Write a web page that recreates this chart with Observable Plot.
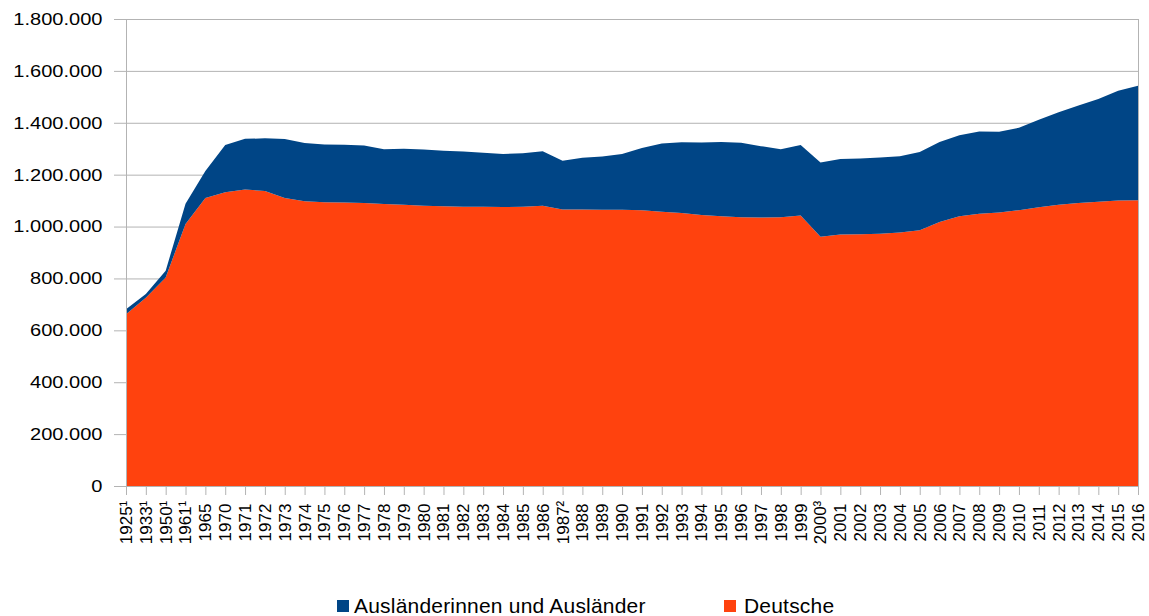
<!DOCTYPE html>
<html><head><meta charset="utf-8">
<script src="https://cdn.jsdelivr.net/npm/d3@7"></script>
<script src="https://cdn.jsdelivr.net/npm/@observablehq/plot@0.6"></script>
<style>
html,body{margin:0;padding:0;background:#fff;overflow:hidden;}
#chart svg{display:block;}
#legend{position:relative;height:36px;width:1149px;font-family:"Liberation Sans",Arial,sans-serif;font-size:21px;color:#000;}
.sw{position:absolute;width:12px;height:12px;top:20px;}
.lt{position:absolute;line-height:21px;top:15px;white-space:nowrap;letter-spacing:0.2px;}
</style></head><body>
<div id="chart"></div>
<div id="legend"></div>
<script>
const categories = ["1925¹","1933¹","1950¹","1961¹","1965","1970","1971","1972","1973","1974","1975","1976","1977","1978","1979","1980","1981","1982","1983","1984","1985","1986","1987²","1988","1989","1990","1991","1992","1993","1994","1995","1996","1997","1998","1999","2000³","2001","2002","2003","2004","2005","2006","2007","2008","2009","2010","2011","2012","2013","2014","2015","2016"];
const deutsche = [662000,726000,804000,1010000,1110000,1132000,1143000,1137000,1110000,1098000,1094000,1093000,1091000,1087000,1084000,1080000,1078000,1076000,1076000,1075000,1076000,1080000,1066000,1066000,1065000,1065000,1063000,1057000,1052000,1045000,1040000,1036000,1035000,1036000,1043000,961000,969000,970000,972000,977000,986000,1018000,1040000,1049000,1054000,1063000,1074000,1084000,1091000,1096000,1100000,1101000];
const auslaender = [19000,14000,26000,78000,104000,182000,195000,203000,227000,224000,222000,222000,221000,211000,216000,217000,214000,213000,208000,205000,207000,210000,188000,199000,205000,215000,240000,263000,273000,279000,286000,287000,275000,262000,271000,286000,291000,292000,294000,294000,301000,308000,312000,317000,311000,318000,338000,357000,376000,396000,423000,442000];
const seriesNames = ["Ausländerinnen und Ausländer","Deutsche"];
const seriesColors = ["#004586","#ff420e"];
const yTicks = [0,200000,400000,600000,800000,1000000,1200000,1400000,1600000,1800000];

const gray = "#b3b3b3";
const fmt = d3.formatLocale({decimal: ",", thousands: ".", grouping: [3], currency: ["", "€"]}).format(",d");

const rows = [];
categories.forEach((c, i) => {
  rows.push({cat: c, series: seriesNames[1], value: deutsche[i]});
  rows.push({cat: c, series: seriesNames[0], value: auslaender[i]});
});

const svg = Plot.plot({
  width: 1149,
  height: 580,
  marginLeft: 126,
  marginRight: 11,
  marginTop: 19,
  marginBottom: 94,
  style: {fontFamily: "'Liberation Sans', Arial, sans-serif", fontSize: "17px", background: "#fff", color: "#000", overflow: "visible"},
  x: {type: "point", domain: categories, padding: 0, round: false, label: null},
  y: {domain: [0, 1800000], label: null},
  color: {domain: seriesNames, range: seriesColors},
  marks: [
    Plot.ruleY(yTicks, {stroke: gray, strokeWidth: 1, insetLeft: -12}),
    Plot.areaY(rows, {x: "cat", y: "value", z: "series", fill: "series", order: [seriesNames[1], seriesNames[0]], curve: "linear"}),
    Plot.ruleX([categories[0], categories[categories.length - 1]], {stroke: gray, strokeWidth: 1}),
    Plot.axisY({ticks: yTicks, tickSize: 0, tickPadding: 24, tickFormat: fmt, fill: "#000"}),
    Plot.axisX({tickSize: 9, tickPadding: 27, tickRotate: -90, textAnchor: "middle", stroke: gray, strokeOpacity: 1, fill: "#000", fontSize: 17})
  ]
});
document.getElementById("chart").appendChild(svg);

// horizontally widened y tick labels, as in the reference
svg.querySelectorAll('g[aria-label="y-axis tick label"] text').forEach(t => {
  const tr = t.getAttribute("transform");
  if (tr) t.setAttribute("transform", tr + " scale(1.18,1)");
});

const legend = document.getElementById("legend");
const items = [
  {name: seriesNames[0], color: seriesColors[0], sx: 337, tx: 354},
  {name: seriesNames[1], color: seriesColors[1], sx: 724, tx: 744}
];
items.forEach(it => {
  const s = document.createElement("div");
  s.className = "sw"; s.style.left = it.sx + "px"; s.style.background = it.color;
  legend.appendChild(s);
  const t = document.createElement("div");
  t.className = "lt"; t.style.left = it.tx + "px"; t.textContent = it.name;
  legend.appendChild(t);
});
</script>
</body></html>
